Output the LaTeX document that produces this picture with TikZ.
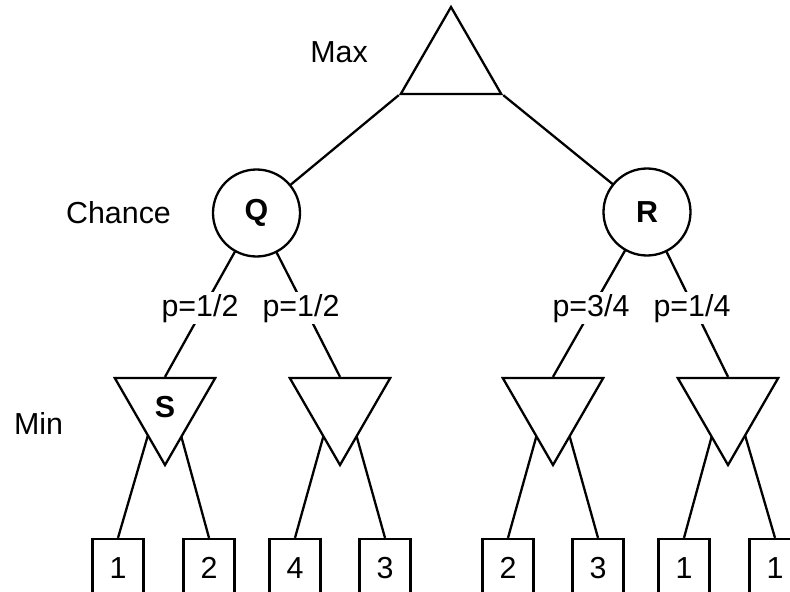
\documentclass[tikz,border=0pt]{standalone}
\usepackage{fontspec}
\setmainfont{Liberation Sans}
\usetikzlibrary{shapes.geometric,calc}
\pgfdeclarelayer{bg}
\pgfsetlayers{bg,main}
\begin{document}
\begin{tikzpicture}[x=1bp,y=-1bp, line width=2.3bp,
  every node/.style={font=\fontsize{30.5}{36}\selectfont},
  conn/.style={line width=2.3bp},
  maxtri/.style={regular polygon, regular polygon sides=3, minimum size=116bp, inner sep=0pt, draw, fill=white},
  mintri/.style={maxtri, shape border rotate=180, font=\fontsize{30.5}{36}\selectfont\bfseries},
  chance/.style={circle, minimum size=87bp, inner sep=0pt, draw, fill=white, font=\fontsize{30.5}{36}\selectfont\bfseries},
  leaf/.style={rectangle, minimum width=51bp, minimum height=56bp, inner sep=0pt, draw, fill=white, text height=22bp, text depth=0pt},
  plabel/.style={fill=white, inner sep=2bp, anchor=base},
  levellabel/.style={anchor=base}]
\clip (0,0) rectangle (790,592);
% level labels
\node[levellabel] (tmax) at (339,63) {Max};
\node[levellabel] (tchance) at (118.5,224) {Chance};
\node[levellabel] (tmin) at (38.5,434) {Min};
% max
\node[maxtri] (max) at (451,65) {};
% chance
\node[chance] (Q) at (256.5,213) {Q};
\node[chance] (R) at (647,212) {R};
% min
\node[mintri] (m1) at (165,407) {S};
\node[mintri] (m2) at (340,407) {};
\node[mintri] (m3) at (553,407) {};
\node[mintri] (m4) at (728,407) {};
\foreach \i in {1,...,4}{
  \coordinate (t\i) at ($(m\i.corner 2)!0.5!(m\i.corner 3)$);
}
% leaves
\node[leaf] (l1) at (118,567) {1};
\node[leaf] (l2) at (209,567) {2};
\node[leaf] (l3) at (295,567) {4};
\node[leaf] (l4) at (385,567) {3};
\node[leaf] (l5) at (508,567) {2};
\node[leaf] (l6) at (598,567) {3};
\node[leaf] (l7) at (684,567) {1};
\node[leaf] (l8) at (775,567) {1};
\begin{pgfonlayer}{bg}
  \draw[conn] (max.corner 2) -- (Q.center);
  \draw[conn] (max.corner 3) -- (R.center);
  \draw[conn] (Q.center) -- (t1);
  \draw[conn] (Q.center) -- (t2);
  \draw[conn] (R.center) -- (t3);
  \draw[conn] (R.center) -- (t4);
  \draw[conn] (t1) -- (l1.north);
  \draw[conn] (t1) -- (l2.north);
  \draw[conn] (t2) -- (l3.north);
  \draw[conn] (t2) -- (l4.north);
  \draw[conn] (t3) -- (l5.north);
  \draw[conn] (t3) -- (l6.north);
  \draw[conn] (t4) -- (l7.north);
  \draw[conn] (t4) -- (l8.north);
\end{pgfonlayer}
% probability labels
\node[plabel] (p1) at (200,316) {p=1/2};
\node[plabel] (p2) at (301,316) {p=1/2};
\node[plabel] (p3) at (591,316) {p=3/4};
\node[plabel] (p4) at (692,316) {p=1/4};
\end{tikzpicture}
\end{document}
